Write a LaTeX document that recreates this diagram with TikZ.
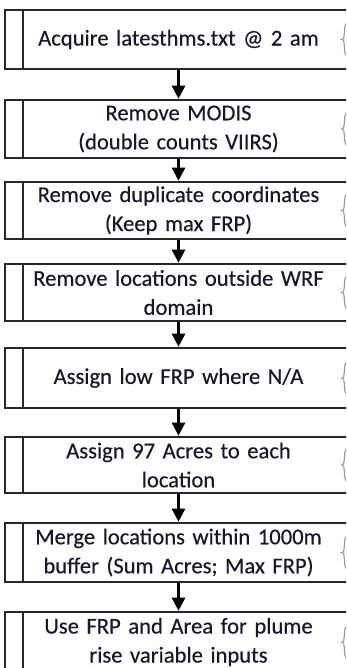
\documentclass[tikz,border=0pt]{standalone}
\usepackage{fontspec}
\setmainfont{Carlito}
\newfontfamily\boxfont{Carlito}[FakeBold=0.35]
\usetikzlibrary{arrows.meta,calc}
\definecolor{txt}{RGB}{24,24,40}
\definecolor{edge}{RGB}{40,40,40}
\definecolor{brc}{RGB}{150,150,150}
\tikzset{
  procbox/.style={draw=edge, line width=1.6pt, rectangle, minimum width=347pt,
    text width=310pt, align=center, text=txt, inner sep=0pt,
    font=\boxfont\fontsize{22.6}{29}\selectfont},
  flowarrow/.style={draw=black, line width=2.6pt, -{Triangle[width=13pt,length=13pt]}, shorten >=0.5pt},
  bracemark/.style={draw=brc, line width=1.1pt}
}
\begin{document}
\begin{tikzpicture}[x=1pt,y=-1pt]
\useasboundingbox (0,0) rectangle (346,668);
\clip (0,0) rectangle (346,668);
\fill[white] (0,0) rectangle (346,668);
% boxes: center y and height
\node[procbox, minimum height=59pt] (b1) at (178.5,39.5) {Acquire latesthms.txt @ 2 am};
\node[procbox, minimum height=58pt] (b2) at (178.5,129) {Remove MODIS\\(double counts VIIRS)};
\node[procbox, minimum height=57pt] (b3) at (178.5,210.5) {Remove duplicate coordinates\\(Keep max FRP)};
\node[procbox, minimum height=57pt] (b4) at (178.5,292.5) {Remove locations outside WRF\\domain};
\node[procbox, minimum height=60pt] (b5) at (178.5,378) {Assign low FRP where N/A};
\node[procbox, minimum height=56pt] (b6) at (178.5,465) {Assign 97 Acres to each\\location};
\node[procbox, minimum height=59pt] (b7) at (178.5,552.5) {Merge locations within 1000m\\buffer (Sum Acres; Max FRP)};
\node[procbox, minimum height=60pt] (b8) at (178.5,642) {Use FRP and Area for plume\\rise variable inputs};
% inner left lines and brace marks
\foreach \n in {b1,b2,b3,b4,b5,b6,b7,b8}{
  \draw[draw=edge, line width=1.6pt] ($(\n.north west)+(19,0)$) -- ($(\n.south west)+(19,0)$);
  \draw[bracemark] ($(\n.east)+(-6.5,-16)$) .. controls ($(\n.east)+(-9,-14)$) and ($(\n.east)+(-8,-6)$) .. ($(\n.east)+(-9,-2)$)
     .. controls ($(\n.east)+(-10,0)$) .. ($(\n.east)+(-11,0)$)
     .. controls ($(\n.east)+(-10,0)$) .. ($(\n.east)+(-9,2)$)
     .. controls ($(\n.east)+(-8,6)$) and ($(\n.east)+(-9,14)$) .. ($(\n.east)+(-6.5,16)$);
}
% arrows
\draw[flowarrow] (b1.south) -- (b2.north);
\draw[flowarrow] (b2.south) -- (b3.north);
\draw[flowarrow] (b3.south) -- (b4.north);
\draw[flowarrow] (b4.south) -- (b5.north);
\draw[flowarrow] (b5.south) -- (b6.north);
\draw[flowarrow] (b6.south) -- (b7.north);
\draw[flowarrow] (b7.south) -- (b8.north);
\end{tikzpicture}
\end{document}
